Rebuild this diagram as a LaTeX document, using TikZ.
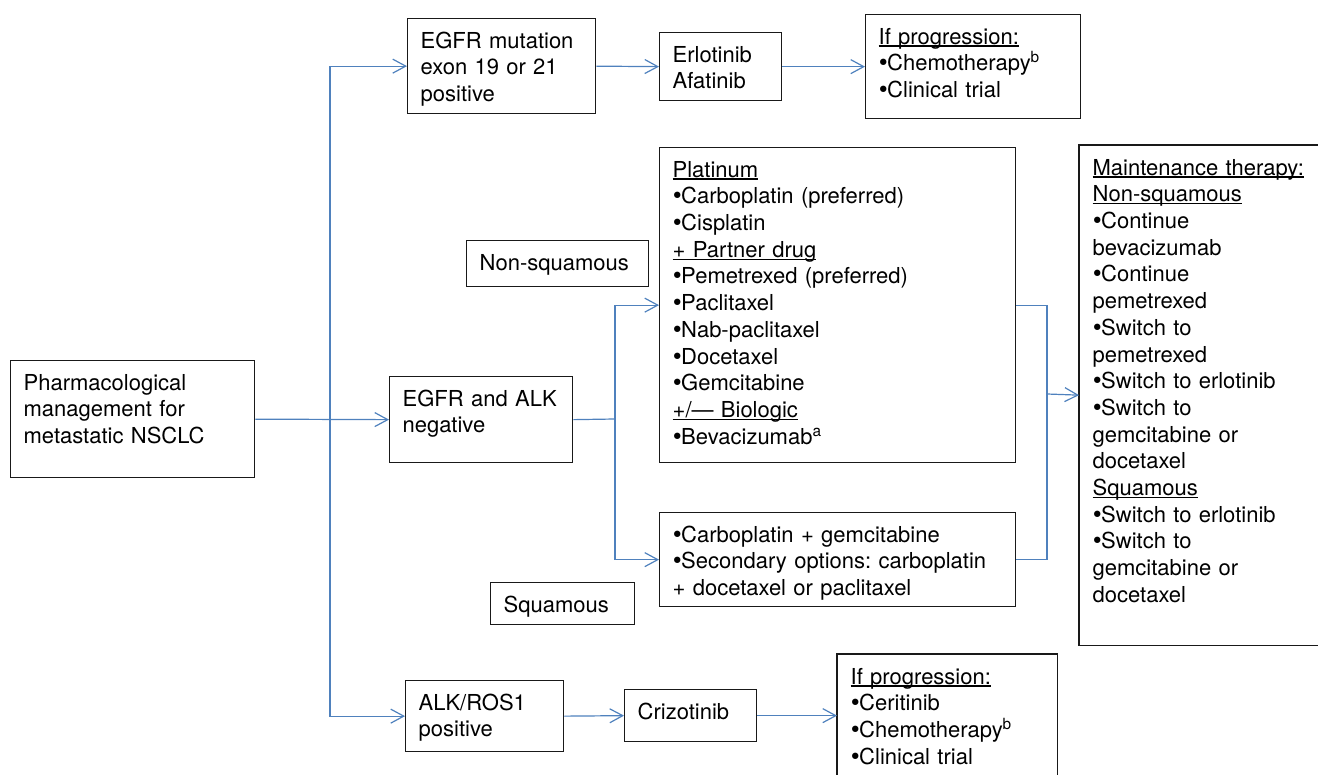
\documentclass[tikz,border=0pt]{standalone}
\usepackage{fontspec}
\setmainfont{TeX Gyre Heros}
\newfontfamily\bulfont{DejaVu Sans}
\usetikzlibrary{arrows.meta}
\definecolor{linkblue}{RGB}{79,129,189}
\newcommand{\ulbl}[1]{\leavevmode\setbox0=\hbox{#1}\rlap{\rule[-1.2pt]{\wd0}{0.55pt}}\box0}
\newcommand{\bul}{\leavevmode{\bulfont\kern-0.9pt•\kern-1.3pt}}
\frenchspacing

\begin{document}
\begin{tikzpicture}[x=0.5pt, y=-0.5pt]
  % styles
  \tikzset{
    box/.style={draw=black!90, line width=0.65pt, anchor=north west, align=left,
      inner xsep=6.5pt, inner ysep=6.25pt, text height=8.5pt,
      font=\fontsize{11}{13.35}\selectfont},
    openbox/.style={box, draw=none},
    frame/.style={draw=black!90, line width=0.65pt},
    link/.style={draw=linkblue, line width=0.6pt},
    arr/.style={link, -{Straight Barb[length=6.5pt, width=7pt]}}
  }
  \useasboundingbox (0,0) rectangle (1318,775);
  \coordinate (edge) at (1318,775);   % page corner, boxes cut off here

  % boxes
  \node[box, text width=109pt, text depth=37.5pt] (pharma) at (10,360)
    {Pharmacological\\management for\\metastatic NSCLC};
  \node[box, text width=81pt, text depth=26.5pt] (egfrmut) at (407,18)
    {EGFR mutation\\exon 19 or 21\\positive};
  \node[box, text width=48pt, text depth=13pt] (erlo) at (659,32)
    {Erlotinib\\Afatinib};
  \node[box, text width=94.5pt, text depth=31pt] (prog1) at (865,14)
    {\ulbl{If progression:}\\\bul Chemotherapy\textsuperscript{b}\\\bul Clinical trial};
  \node[box, text width=78pt, text depth=2pt] (nonsq) at (466,240)
    {Non-squamous};
  \node[box, text width=78.5pt, text depth=22pt] (egfralk) at (389,376)
    {EGFR and ALK\\negative};
  \node[box, text width=165pt, text depth=136.5pt] (plat) at (659,147)
    {\ulbl{Platinum}\\\bul Carboplatin (preferred)\\\bul Cisplatin\\\ulbl{+ Partner drug}\\%
     \bul Pemetrexed (preferred)\\\bul Paclitaxel\\\bul Nab-paclitaxel\\\bul Docetaxel\\%
     \bul Gemcitabine\\\ulbl{+/— Biologic}\\\bul Bevacizumab\textsuperscript{a}};
  \node[box, text width=165pt, text depth=26pt] (sqchemo) at (659,512)
    {\bul Carboplatin + gemcitabine\\\bul Secondary options: carboplatin\\+ docetaxel or paclitaxel};
  \node[box, text width=59pt, text depth=0pt] (sq) at (490,582)
    {Squamous};
  \node[openbox, text width=110pt, text depth=228.5pt] (maint) at (1079,145)
    {\ulbl{Maintenance therapy:}\\\ulbl{Non-squamous}\\\bul Continue\\bevacizumab\\%
     \bul Continue\\pemetrexed\\\bul Switch to\\pemetrexed\\\bul Switch to erlotinib\\%
     \bul Switch to\\gemcitabine or\\docetaxel\\\ulbl{Squamous}\\\bul Switch to erlotinib\\%
     \bul Switch to\\gemcitabine or\\docetaxel};
  \node[box, text width=66pt, text depth=14.5pt] (alkros) at (405,680)
    {ALK/ROS1\\positive};
  \node[box, text width=53pt, text depth=5pt] (crizo) at (624,689)
    {Crizotinib};
  \node[openbox, text width=96.5pt, text depth=49pt] (prog2) at (837,654)
    {\ulbl{If progression:}\\\bul Ceritinib\\\bul Chemotherapy\textsuperscript{b}\\\bul Clinical trial};

  % frames of the two boxes cut by the page edge
  \draw[frame] (maint.north west -| edge) -- (maint.north west)
    -- (maint.south west) -- (maint.south west -| edge);
  \draw[frame] (prog2.north west |- edge) -- (prog2.north west)
    -- (prog2.north east) -- (prog2.north east |- edge);

  % branch points
  \coordinate (split) at (330,419);   % main trunk
  \coordinate (fork) at (615,419);    % histology fork
  \coordinate (join) at (1047,394);   % towards maintenance

  % connectors
  \draw[arr] (pharma.east) -- (egfralk.west);
  \draw[arr] (split) |- (egfrmut.west);
  \draw[arr] (split) |- (alkros.west);
  \draw[arr] (egfrmut.east) -- (erlo.west);
  \draw[arr] (erlo.east) -- (prog1.west);
  \draw[link] (egfralk.east) -- (fork);
  \draw[arr] (fork) |- (plat.west);
  \draw[arr] (fork) |- (sqchemo.west);
  \draw[link] (plat.east) -| (join) |- (sqchemo.east);
  \draw[arr] (join) -- (maint.west);
  \draw[arr] (alkros.east) -- (crizo.west);
  \draw[arr] (crizo.east) -- (crizo.east -| prog2.west);
\end{tikzpicture}
\end{document}
